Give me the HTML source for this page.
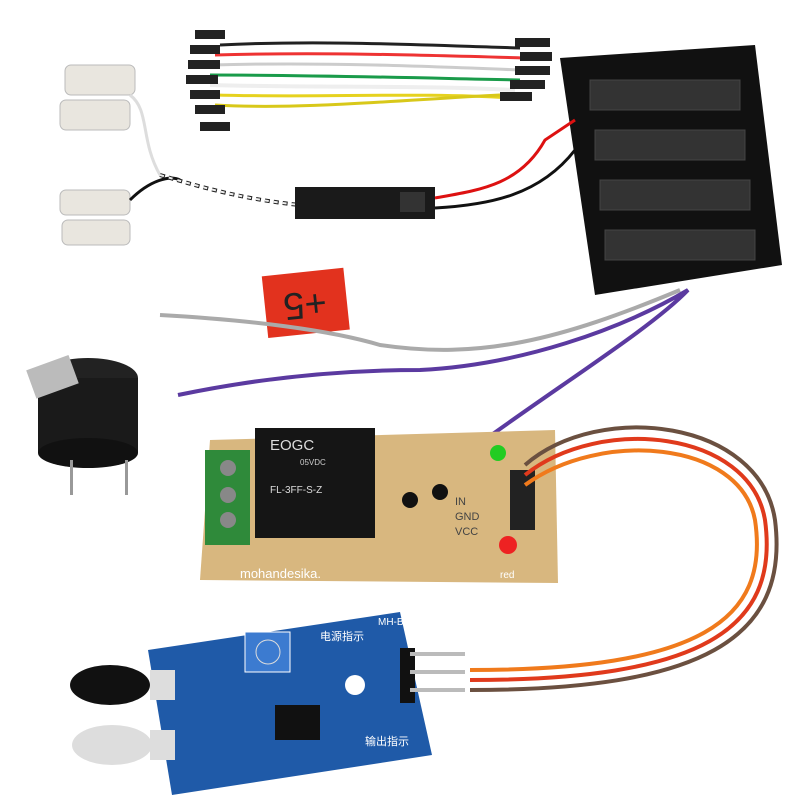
<!DOCTYPE html>
<html><head><meta charset="utf-8"><style>
html,body{margin:0;padding:0;background:#fff;}
svg{display:block}
text{font-family:"Liberation Sans","Noto Sans CJK SC",sans-serif}
</style></head><body>
<svg width="800" height="800" viewBox="0 0 800 800" xmlns="http://www.w3.org/2000/svg">
<rect width="800" height="800" fill="#fff"/>
<!-- jumper wires -->
<g fill="none" stroke-width="3">
<path d="M220,45 C320,40 420,45 520,48" stroke="#222"/>
<path d="M215,55 C320,52 420,55 525,58" stroke="#e33"/>
<path d="M212,65 C320,62 420,66 520,70" stroke="#ccc"/>
<path d="M210,75 C320,75 420,78 520,80" stroke="#1a9b4a"/>
<path d="M210,85 C320,88 420,85 515,90" stroke="#eee" stroke-width="4"/>
<path d="M215,95 C320,98 420,92 510,98" stroke="#e6d21f"/>
<path d="M215,105 C300,110 400,100 500,95" stroke="#d8c81a"/>
</g>
<g fill="#222">
<rect x="195" y="30" width="30" height="9"/><rect x="190" y="45" width="30" height="9"/><rect x="188" y="60" width="32" height="9"/>
<rect x="186" y="75" width="32" height="9"/><rect x="190" y="90" width="30" height="9"/><rect x="195" y="105" width="30" height="9"/><rect x="200" y="122" width="30" height="9"/>
<rect x="515" y="38" width="35" height="9"/><rect x="520" y="52" width="32" height="9"/><rect x="515" y="66" width="35" height="9"/>
<rect x="510" y="80" width="35" height="9"/><rect x="500" y="92" width="32" height="9"/>
</g>
<!-- battery holder -->
<polygon points="560,58 755,45 782,265 595,295" fill="#111"/>
<g fill="#333" stroke="#444"><rect x="590" y="80" width="150" height="30"/><rect x="595" y="130" width="150" height="30"/><rect x="600" y="180" width="150" height="30"/><rect x="605" y="230" width="150" height="30"/></g>
<!-- clips -->
<g fill="#e9e6df" stroke="#bbb"><rect x="65" y="65" width="70" height="30" rx="6"/><rect x="60" y="100" width="70" height="30" rx="6"/>
<rect x="60" y="190" width="70" height="25" rx="6"/><rect x="62" y="220" width="68" height="25" rx="6"/></g>
<path d="M130,95 C150,110 140,140 160,175" stroke="#ddd" stroke-width="3" fill="none"/>
<path d="M130,200 C150,180 170,175 180,180" stroke="#111" stroke-width="3" fill="none"/>
<path d="M160,175 C210,190 250,200 300,205" stroke="#222" stroke-width="4" fill="none" stroke-dasharray="5 4"/>
<path d="M160,175 C210,190 250,200 300,205" stroke="#eee" stroke-width="2" fill="none" stroke-dasharray="4 5"/>
<!-- switch -->
<rect x="295" y="187" width="140" height="32" fill="#1a1a1a"/>
<rect x="400" y="192" width="25" height="20" fill="#333"/>
<path d="M435,198 C480,190 520,185 545,140 L575,120" stroke="#d11" stroke-width="3" fill="none"/>
<path d="M435,208 C490,205 540,195 575,150" stroke="#111" stroke-width="3" fill="none"/>
<!-- +5 label -->
<g transform="rotate(-6 305 305)"><rect x="265" y="272" width="82" height="62" fill="#e2321e"/>
<text x="305" y="318" font-size="38" fill="#222" text-anchor="middle" transform="rotate(180 305 305)">+5</text></g>
<!-- gray & purple wires -->
<path d="M160,315 C250,320 330,330 380,345 C480,360 560,340 680,290" stroke="#aaa" stroke-width="4" fill="none"/>
<path d="M178,395 C250,380 330,370 420,370 C520,365 620,330 688,290 C640,340 500,420 380,520" stroke="#5b3aa0" stroke-width="4" fill="none"/>
<!-- buzzer -->
<ellipse cx="88" cy="378" rx="50" ry="20" fill="#222"/>
<rect x="38" y="378" width="100" height="75" fill="#1a1a1a"/>
<ellipse cx="88" cy="453" rx="50" ry="15" fill="#111"/>
<rect x="30" y="362" width="45" height="30" fill="#bbb" transform="rotate(-20 52 377)"/>
<rect x="70" y="460" width="3" height="35" fill="#999"/><rect x="125" y="460" width="3" height="35" fill="#999"/>
<!-- relay board -->
<polygon points="210,440 555,430 558,583 200,580" fill="#d8b77f"/>
<rect x="205" y="450" width="45" height="95" fill="#2f8a3a"/>
<g fill="#888"><circle cx="228" cy="468" r="8"/><circle cx="228" cy="495" r="8"/><circle cx="228" cy="520" r="8"/></g>
<rect x="255" y="428" width="120" height="110" fill="#151515"/>
<text x="270" y="450" font-size="15" fill="#ddd">EOGC</text>
<text x="300" y="465" font-size="8" fill="#ccc">05VDC</text>
<text x="270" y="493" font-size="10" fill="#ddd" font-family="Liberation Serif">FL-3FF-S-Z</text>
<circle cx="410" cy="500" r="8" fill="#111"/><circle cx="440" cy="492" r="8" fill="#111"/>
<circle cx="498" cy="453" r="8" fill="#2c2"/><circle cx="508" cy="545" r="9" fill="#e22"/>
<text x="455" y="505" font-size="11" fill="#444">IN</text><text x="455" y="520" font-size="11" fill="#444">GND</text><text x="455" y="535" font-size="11" fill="#444">VCC</text>
<text x="240" y="578" font-size="13" fill="#fff">mohandesika.</text>
<text x="500" y="578" font-size="10" fill="#fff">red</text>
<rect x="510" y="470" width="25" height="60" fill="#222"/>
<!-- ribbon cable -->
<g fill="none" stroke-width="4">
<path d="M525,465 C600,400 760,420 775,520 C790,640 700,690 470,690" stroke="#6b5040"/>
<path d="M525,475 C600,415 750,430 765,520 C780,630 700,680 470,680" stroke="#e03a1c"/>
<path d="M525,485 C600,430 740,440 755,520 C770,620 700,670 470,670" stroke="#f07a1c"/>
</g>
<!-- IR sensor -->
<polygon points="148,650 400,612 432,755 172,795" fill="#1f5aa8"/>
<rect x="245" y="632" width="45" height="40" fill="#3c7bd0" stroke="#fff"/>
<circle cx="268" cy="652" r="12" fill="#3c7bd0" stroke="#ddd"/>
<circle cx="355" cy="685" r="10" fill="#fff"/>
<rect x="275" y="705" width="45" height="35" fill="#111"/>
<text x="320" y="640" font-size="11" fill="#fff">电源指示</text><text x="378" y="625" font-size="10" fill="#fff">MH-B</text>
<text x="365" y="745" font-size="11" fill="#fff">输出指示</text>
<rect x="400" y="648" width="15" height="55" fill="#111"/>
<g fill="#bbb"><rect x="410" y="652" width="55" height="4"/><rect x="410" y="670" width="55" height="4"/><rect x="410" y="688" width="55" height="4"/></g>
<ellipse cx="110" cy="685" rx="40" ry="20" fill="#111"/>
<ellipse cx="112" cy="745" rx="40" ry="20" fill="#ddd"/>
<rect x="150" y="670" width="25" height="30" fill="#ddd"/><rect x="150" y="730" width="25" height="30" fill="#ddd"/>
</svg>
</body></html>
